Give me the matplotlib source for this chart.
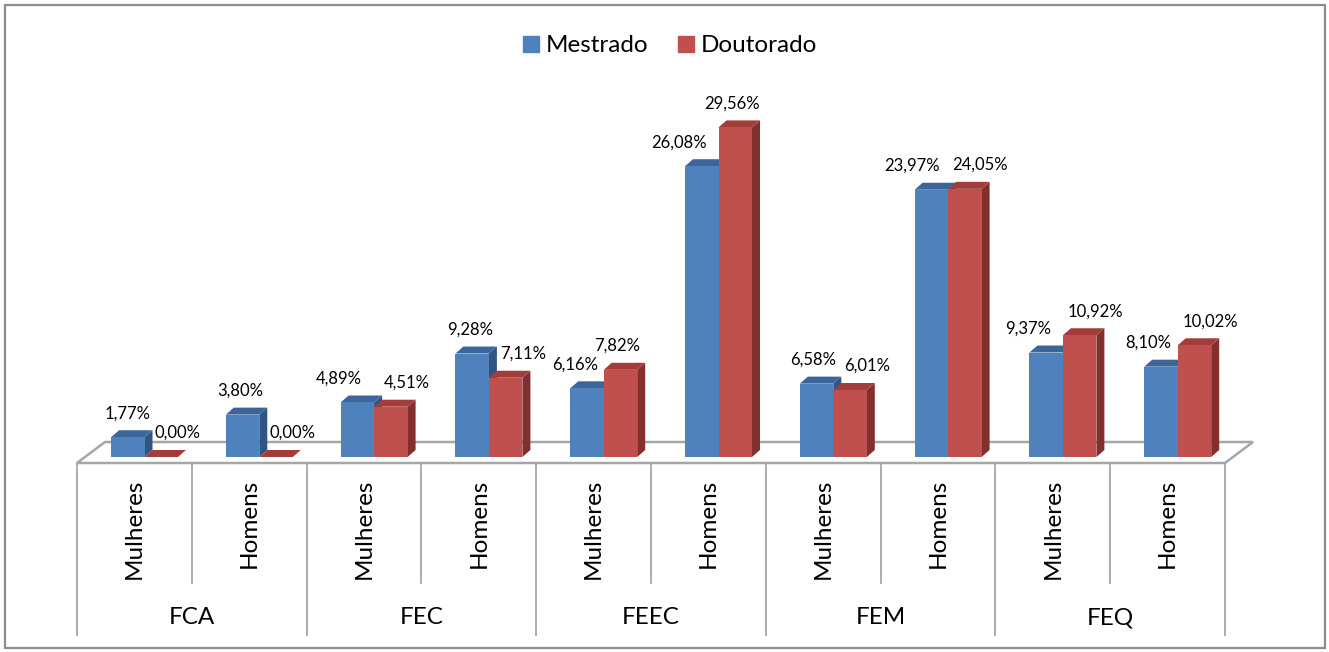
import matplotlib.pyplot as plt
from matplotlib.patches import Polygon, Patch, Rectangle

plt.rcParams['font.family'] = ['Lato', 'DejaVu Sans']

groups = ['FCA', 'FEC', 'FEEC', 'FEM', 'FEQ']
genders = ['Mulheres', 'Homens']
mestrado = [1.77, 3.80, 4.89, 9.28, 6.16, 26.08, 6.58, 23.97, 9.37, 8.10]
doutorado = [0.00, 0.00, 4.51, 7.11, 7.82, 29.56, 6.01, 24.05, 10.92, 10.02]

# label nudges (pixels) to mimic how excel pushes overlapping labels apart
nudge_m = [0, -2, -19, -2, -12, -23, -3, -19, -18, -13]
nudge_d = [16, 16, 16, 17, -3, -3, 17, 15, 16, 16]

W, H = 1329, 652
fig = plt.figure(figsize=(W/100, H/100), dpi=100)
ax = fig.add_axes([0, 0, 1, 1])
# one category slot = 114.8 px, 1% = 11.15 px, baseline at y=457 px
sx, sy = 114.8, 11.15
ax.set_xlim(-77/sx, (W-77)/sx)
ax.set_ylim(-(H-457)/sy, 457/sy)
ax.axis('off')

fig.patches.append(Rectangle((4.5/W, 4/H), 1320/W, 643/H,
                             transform=fig.transFigure, fc='none',
                             ec='#8c8c8c', lw=1.6, zorder=0))

grey = '#a6a6a6'
n = len(mestrado)
# floor
fy0, fy1 = -6/sy, 15/sy
fdx = 28/sx
ax.add_patch(Polygon([(0, fy0), (n, fy0), (n+fdx, fy1), (fdx, fy1)],
                     closed=True, fc='white', ec=grey, lw=1.8, zorder=1))

# bars
bw = 33.5/sx
off = 34/sx
ddx, ddy = 8/sx, 7/sy
series = [(mestrado, '#4f81bd', '#3b659b', '#2f5585', 0, nudge_m),
          (doutorado, '#c0504d', '#a33d3a', '#82302e', 1, nudge_d)]
for vals, front, top, side, k, nud in series:
    for i, v in enumerate(vals):
        x0 = i + off + k*bw
        x1 = x0 + bw
        z = 3 + 2*k
        ax.add_patch(Polygon([(x1, 0), (x1+ddx, ddy), (x1+ddx, v+ddy), (x1, v)],
                             closed=True, fc=side, ec='none', zorder=z))
        ax.add_patch(Polygon([(x0, v), (x1, v), (x1+ddx, v+ddy), (x0+ddx, v+ddy)],
                             closed=True, fc=top, ec='none', zorder=z))
        ax.annotate(f'{v:.2f}%'.replace('.', ','), (x0 + bw/2, v),
                    xytext=(nud[i]*0.72, 24*0.72), textcoords='offset points',
                    ha='center', va='center', fontsize=12, zorder=10)
    ax.bar([i + off + k*bw for i in range(n)], vals, width=bw, align='edge',
           color=front, zorder=3 + 2*k + 0.5)

# category table below the floor
for j in range(n + 1):
    bottom = -(635-457)/sy if j % 2 == 0 else -(583-457)/sy
    ax.plot([j, j], [fy0, bottom], color=grey, lw=1.3, zorder=1)
for i in range(n):
    ax.text(i + 0.5, -(479-457)/sy, genders[i % 2], rotation=90,
            ha='center', va='top', fontsize=17.5)
for g, name in enumerate(groups):
    ax.text(2*g + 1, -(618-457)/sy, name, ha='center', va='center', fontsize=17.5)

handles = [Patch(color='#4f81bd', label='Mestrado'),
           Patch(color='#c0504d', label='Doutorado')]
fig.legend(handles=handles, loc='center', bbox_to_anchor=(670/W, 1 - 46/H),
           ncol=2, frameon=False, fontsize=17.5, handlelength=0.65,
           handleheight=0.65, handletextpad=0.3, columnspacing=1.2)

fig.savefig('out.png', dpi=100)
